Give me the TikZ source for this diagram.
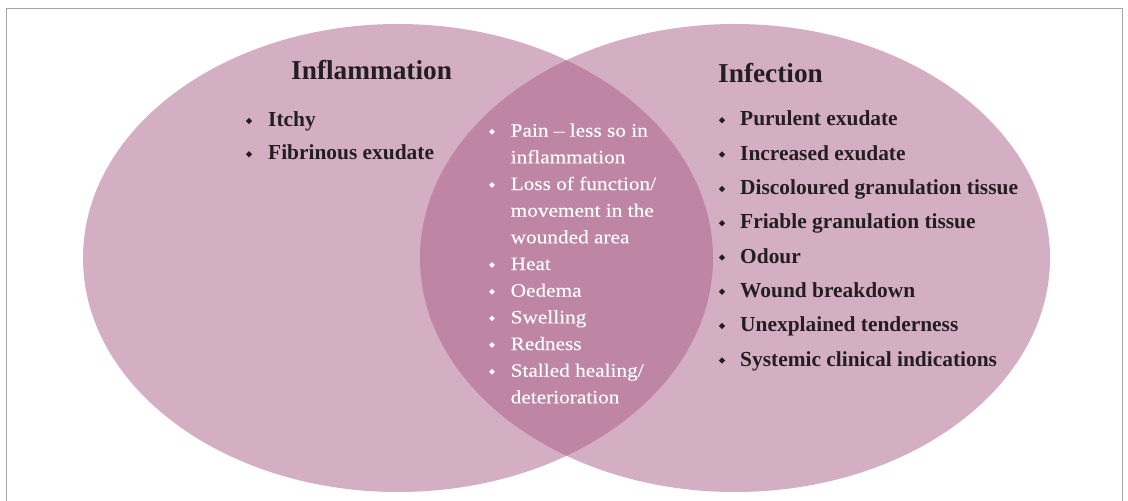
\documentclass[tikz,border=0pt]{standalone}
\usepackage{fontspec}
\setmainfont{Liberation Serif}
\newfontfamily\midfont{Liberation Serif}[FakeStretch=1.12,FakeBold=0.15]
\definecolor{outerc}{RGB}{212,174,195}
\definecolor{innerc}{RGB}{191,133,164}
\definecolor{textc}{RGB}{35,31,32}
\definecolor{framec}{RGB}{166,166,166}
\begin{document}
\begin{tikzpicture}[x=1pt,y=1pt,
  head/.style={inner sep=0pt, anchor=base west, text=textc, font=\fontsize{27.3}{30}\bfseries},
  sitem/.style={inner sep=0pt, anchor=base west, text=textc, font=\fontsize{21.4}{24}\bfseries},
  mitem/.style={inner sep=0pt, anchor=base west, text=white, font=\fontsize{19}{22}\midfont},
  sbul/.style={draw=none, fill=textc, rectangle, rotate=45, inner sep=0pt, minimum size=4.4pt},
  mbul/.style={draw=none, fill=white, rectangle, rotate=45, inner sep=0pt, minimum size=4pt}]
\useasboundingbox (0,0) rectangle (1128,501);
\fill[white] (0,0) rectangle (1128,501);
\draw[framec, line width=1pt] (6,-3) -- (6,492) -- (1122,492) -- (1122,-3);
% circles
\fill[outerc] (398,243) ellipse [x radius=315pt, y radius=234pt];
\fill[outerc] (735,243) ellipse [x radius=315pt, y radius=234pt];
\begin{scope}
  \clip (398,243) ellipse [x radius=315pt, y radius=234pt];
  \fill[innerc] (735,243) ellipse [x radius=315pt, y radius=234pt];
\end{scope}
% headings
\node[head] (hinf) at (291,421.5) {Inflammation};
\node[head] (hfec) at (718,418.5) {Infection};
% left list
\foreach [count=\i] \t in {Itchy, Fibrinous exudate}{
  \node[sitem] (l\i) at (268,{374.3-33.3*(\i-1)}) {\t};
  \node[sbul] (lb\i) at (249,{380-33.3*(\i-1)}) {};
}
% right list
\foreach [count=\i] \t in {Purulent exudate, Increased exudate, Discoloured granulation tissue,
  Friable granulation tissue, Odour, Wound breakdown, Unexplained tenderness,
  Systemic clinical indications}{
  \node[sitem] (r\i) at (740,{375-34.3*(\i-1)}) {\t};
  \node[sbul] (rb\i) at (722,{380.7-34.3*(\i-1)}) {};
}
% middle list
\foreach [count=\i] \t in {Pain \textendash{} less so in, inflammation, Loss of function/,
  movement in the, wounded area, Heat, Oedema, Swelling, Redness, Stalled healing/, deterioration}{
  \node[mitem] (m\i) at (510.5,{364.3-26.67*(\i-1)}) {\t};
}
\foreach [count=\i] \k in {1,3,6,7,8,9,10}{
  \node[mbul] (mb\i) at (492,{369.3-26.67*(\k-1)}) {};
}
\end{tikzpicture}
\end{document}
